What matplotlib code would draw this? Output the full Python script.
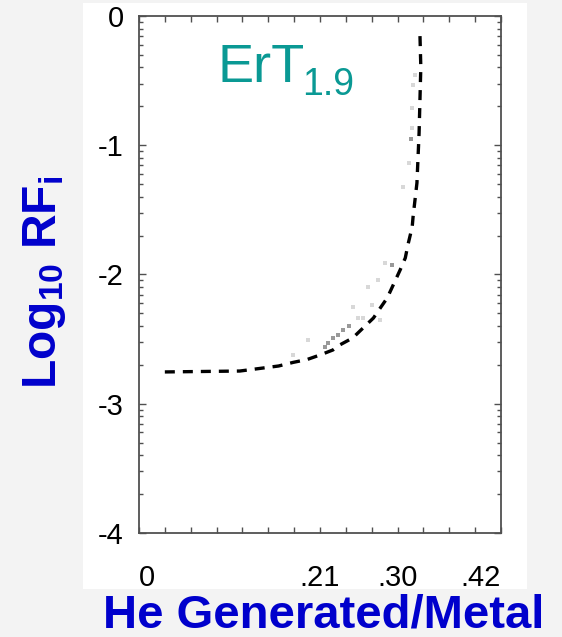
import numpy as np
import matplotlib
matplotlib.use("Agg")
import matplotlib.pyplot as plt
from matplotlib.patches import Rectangle
from matplotlib.ticker import FixedLocator

plt.rcParams["font.family"] = ["Liberation Sans", "DejaVu Sans"]
plt.rcParams["mathtext.fontset"] = "custom"
plt.rcParams["mathtext.rm"] = "Liberation Sans:bold"
plt.rcParams["mathtext.it"] = "Liberation Sans:bold"
plt.rcParams["mathtext.bf"] = "Liberation Sans:bold"

# fitted curve (dashed): He/metal vs log10 RF_i
curve_x = [0.030, 0.117, 0.162, 0.179, 0.195, 0.210, 0.225, 0.233, 0.248,
           0.260, 0.272, 0.280, 0.288, 0.295, 0.303, 0.309, 0.312, 0.317,
           0.318, 0.3225, 0.325, 0.327, 0.326]
curve_y = [-2.754, -2.747, -2.708, -2.680, -2.658, -2.623, -2.584, -2.545,
           -2.491, -2.414, -2.337, -2.259, -2.182, -2.081, -1.965, -1.872,
           -1.772, -1.632, -1.555, -1.292, -0.905, -0.395, -0.147]

# faint measured points
pts_x = [0.2935, 0.2854, 0.2773, 0.2657, 0.2703, 0.2483, 0.2599, 0.2796,
         0.2436, 0.2367, 0.2309, 0.2251, 0.2193, 0.2158, 0.1961, 0.2541,
         0.1787, 0.3202, 0.3179, 0.3167, 0.3167, 0.3156, 0.3133, 0.3063]
pts_y = [-1.927, -1.911, -2.043, -2.097, -2.236, -2.251, -2.337, -2.352,
         -2.398, -2.429, -2.468, -2.491, -2.530, -2.561, -2.507, -2.337,
         -2.623, -0.456, -0.534, -0.712, -0.867, -0.952, -1.137, -1.323]
pts_dark = [1, 0, 0, 0, 0, 0, 0, 0, 1, 1, 1, 1, 1, 1, 0, 0,
            0, 0, 0, 0, 0, 1, 0, 0]

xticks = [0, 0.21, 0.30, 0.42]
xticklabels = ["0", ".21", ".30", ".42"]
yticks = [0, -1, -2, -3, -4]
yticklabels = ["0", "-1", "-2", "-3", "-4"]

TEAL = "#0a9994"
BLUE = "#0000cc"
FRAME = "#505050"

fig = plt.figure(figsize=(5.62, 6.37), dpi=100)
fig.patch.set_facecolor("#f3f3f3")
fig.patches.append(Rectangle((0.1477, 0.0754), 0.790, 0.920, transform=fig.transFigure,
                             facecolor="white", edgecolor="none", zorder=-5))

ax = fig.add_axes([0.2473, 0.1633, 0.6441, 0.8116])
ax.set_facecolor("white")

cols = ["#999999" if d else "#d8d8d8" for d in pts_dark]
ax.scatter(pts_x, pts_y, s=6, c=cols, marker="s", linewidths=0, zorder=2)
ax.plot(curve_x, curve_y, color="black", lw=2.4, dashes=(3, 2.4), zorder=3)

ax.set_xlim(0, 0.42)
ax.set_ylim(-4, 0)

ax.set_xticks(xticks)
ax.set_xticklabels(xticklabels)
ax.xaxis.set_minor_locator(FixedLocator(np.arange(0, 0.4201, 0.03)))
ax.set_yticks(yticks)
ax.set_yticklabels(yticklabels)
minor_y = [n + np.log10(k) for n in range(-4, 0) for k in range(2, 10)]
ax.yaxis.set_minor_locator(FixedLocator(minor_y))

ax.tick_params(which="both", direction="in", top=True, right=True,
               color=FRAME, width=1.0, labelsize=21, labelcolor="black")
ax.tick_params(axis="x", which="both", length=4.5, pad=22)
ax.tick_params(axis="y", which="major", length=5, pad=11)
ax.tick_params(axis="y", which="minor", length=3)
xl = ax.get_xticklabels()
xl[0].set_ha("left")
xl[-1].set_ha("right")
for s in ax.spines.values():
    s.set_color(FRAME)
    s.set_linewidth(1.3)

ax.set_xlabel("He Generated/Metal", fontsize=34, fontweight="bold", color=BLUE,
              va="baseline")
ax.xaxis.set_label_coords(0.511, -0.182)
ax.set_ylabel(r"Log$_{10}$ RF$_{i}$", fontsize=34.5, fontweight="bold", color=BLUE,
              va="center")
ax.yaxis.set_label_coords(-0.262, 0.484)

ax.text(0.218, 0.872, "ErT", transform=ax.transAxes, fontsize=39, color=TEAL,
        va="baseline", ha="left")
ax.text(0.450, 0.847, "1.9", transform=ax.transAxes, fontsize=27, color=TEAL,
        va="baseline", ha="left")

fig.savefig("out.png", dpi=100, facecolor=fig.get_facecolor())
